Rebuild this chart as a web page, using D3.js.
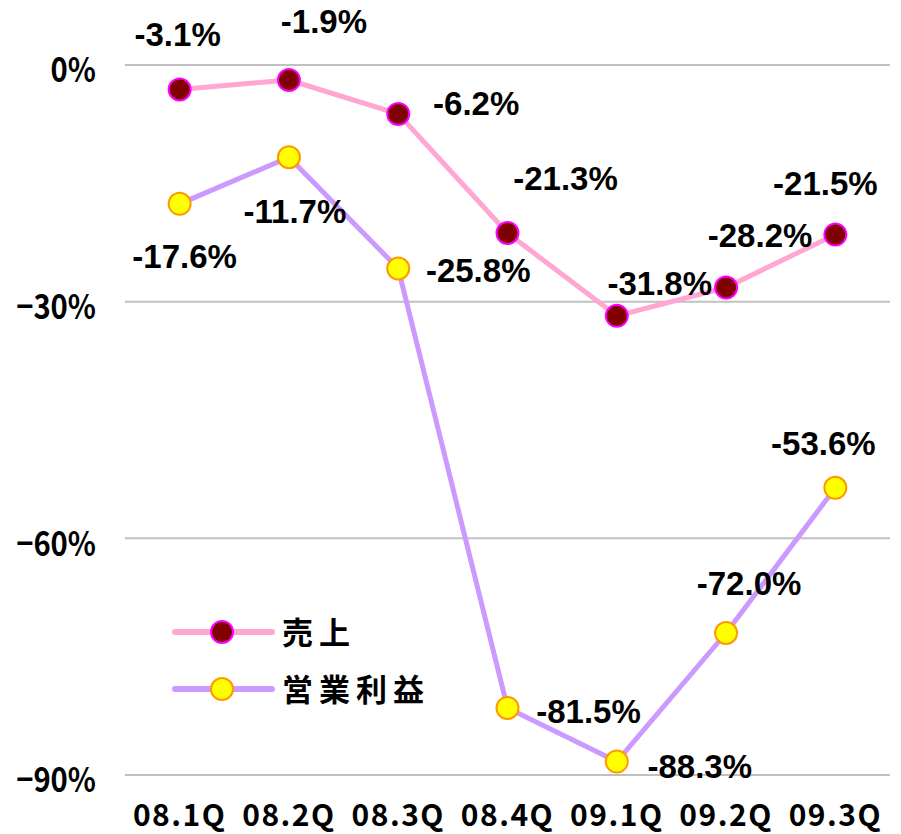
<!DOCTYPE html>
<html>
<head>
<meta charset="utf-8">
<script src="https://cdn.jsdelivr.net/npm/d3@7"></script>
<style>
  body { margin: 0; background: #fff; }
  svg { display: block; }
</style>
</head>
<body>
<div id="chart"></div>
<script>
// quarters on the x axis
var quarters = ["08.1Q", "08.2Q", "08.3Q", "08.4Q", "09.1Q", "09.2Q", "09.3Q"];

// year-on-year change, percent
var sales = [-3.1, -1.9, -6.2, -21.3, -31.8, -28.2, -21.5];
var opProfit = [-17.6, -11.7, -25.8, -81.5, -88.3, -72.0, -53.6];

var yTicks = [0, -30, -60, -90];
var seriesNames = ["売上", "営業利益"];

// where each value label sits relative to its marker
var salesLabelOffset = [[-2, -43], [35, -47], [78, 1], [58, -43], [43, -21], [34, -40], [-10, -40]];
var opLabelOffset = [[5, 64], [6, 66], [80, 13], [81, 15], [83, 16], [23, -38], [-12, -33]];

var width = 901, height = 834;
var gridLeft = 125, gridRight = 890;

var svg = d3.select("#chart").append("svg")
  .attr("width", width)
  .attr("height", height);

var x = d3.scalePoint()
  .domain(quarters)
  .range([gridLeft, gridRight])
  .padding(0.5);

var y = d3.scaleLinear()
  .domain([0, -90])
  .range([65, 775]);

var jpFont = "'Noto Sans CJK JP', 'Noto Sans', sans-serif";
var numFont = "'Liberation Sans', Arial, sans-serif";

// horizontal grid lines
svg.append("g").selectAll("line")
  .data(yTicks)
  .enter().append("line")
  .attr("x1", gridLeft)
  .attr("x2", gridRight)
  .attr("y1", function(d) { return y(d); })
  .attr("y2", function(d) { return y(d); })
  .style("stroke", "#c0c0c0")
  .style("stroke-width", 2);

// y axis labels (narrow gothic look: squeeze horizontally)
svg.append("g").selectAll("text")
  .data(yTicks)
  .enter().append("text")
  .attr("transform", function(d) { return "translate(96," + (y(d) + 5) + ") scale(0.86,1)"; })
  .attr("dy", "0.36em")
  .attr("text-anchor", "end")
  .style("font-family", jpFont)
  .style("font-weight", "bold")
  .style("font-size", "34px")
  .text(function(d) { return d === 0 ? "0%" : "\u2212" + Math.abs(d) + "%"; });

// x axis labels
svg.append("g").selectAll("text")
  .data(quarters)
  .enter().append("text")
  .attr("x", function(d) { return x(d); })
  .attr("y", 826)
  .attr("text-anchor", "middle")
  .style("font-family", jpFont)
  .style("font-weight", "bold")
  .style("font-size", "30px")
  .style("letter-spacing", "1.5px")
  .text(function(d) { return d; });

var line = d3.line()
  .x(function(d, i) { return x(quarters[i]); })
  .y(function(d) { return y(d); });

var series = [
  {name: seriesNames[0], values: sales, offsets: salesLabelOffset,
   line: "#ffa6d2", fill: "#800000", stroke: "#ff00ff"},
  {name: seriesNames[1], values: opProfit, offsets: opLabelOffset,
   line: "#cc99ff", fill: "#ffff00", stroke: "#ff9900"}
];

// draw lines first so markers sit on top
series.forEach(function(s) {
  svg.append("path")
    .datum(s.values)
    .attr("d", line)
    .style("fill", "none")
    .style("stroke", s.line)
    .style("stroke-width", 5)
    .style("stroke-linejoin", "round");
});

series.forEach(function(s) {
  svg.append("g").selectAll("circle")
    .data(s.values)
    .enter().append("circle")
    .attr("cx", function(d, i) { return x(quarters[i]); })
    .attr("cy", function(d) { return y(d); })
    .attr("r", 11)
    .style("fill", s.fill)
    .style("stroke", s.stroke)
    .style("stroke-width", 2);

  svg.append("g").selectAll("text")
    .data(s.values)
    .enter().append("text")
    .attr("x", function(d, i) { return x(quarters[i]) + s.offsets[i][0]; })
    .attr("y", function(d, i) { return y(d) + s.offsets[i][1]; })
    .attr("text-anchor", "middle")
    .style("font-family", numFont)
    .style("font-weight", "bold")
    .style("font-size", "33px")
    .text(function(d) { return d.toFixed(1) + "%"; });
});

// legend
var legend = svg.append("g")
  .attr("transform", "translate(175,632)");

var entries = legend.selectAll("g")
  .data(series)
  .enter().append("g")
  .attr("transform", function(d, i) { return "translate(0," + i * 57 + ")"; });

entries.append("line")
  .attr("x1", 0)
  .attr("x2", 97)
  .style("stroke", function(d) { return d.line; })
  .style("stroke-width", 6)
  .style("stroke-linecap", "round");

entries.append("circle")
  .attr("cx", 47)
  .attr("r", 11)
  .style("fill", function(d) { return d.fill; })
  .style("stroke", function(d) { return d.stroke; })
  .style("stroke-width", 2);

entries.append("text")
  .attr("x", 107)
  .attr("dy", "0.38em")
  .style("font-family", jpFont)
  .style("font-weight", "bold")
  .style("font-size", "31px")
  .style("letter-spacing", "6px")
  .text(function(d) { return d.name; });
</script>
</body>
</html>
